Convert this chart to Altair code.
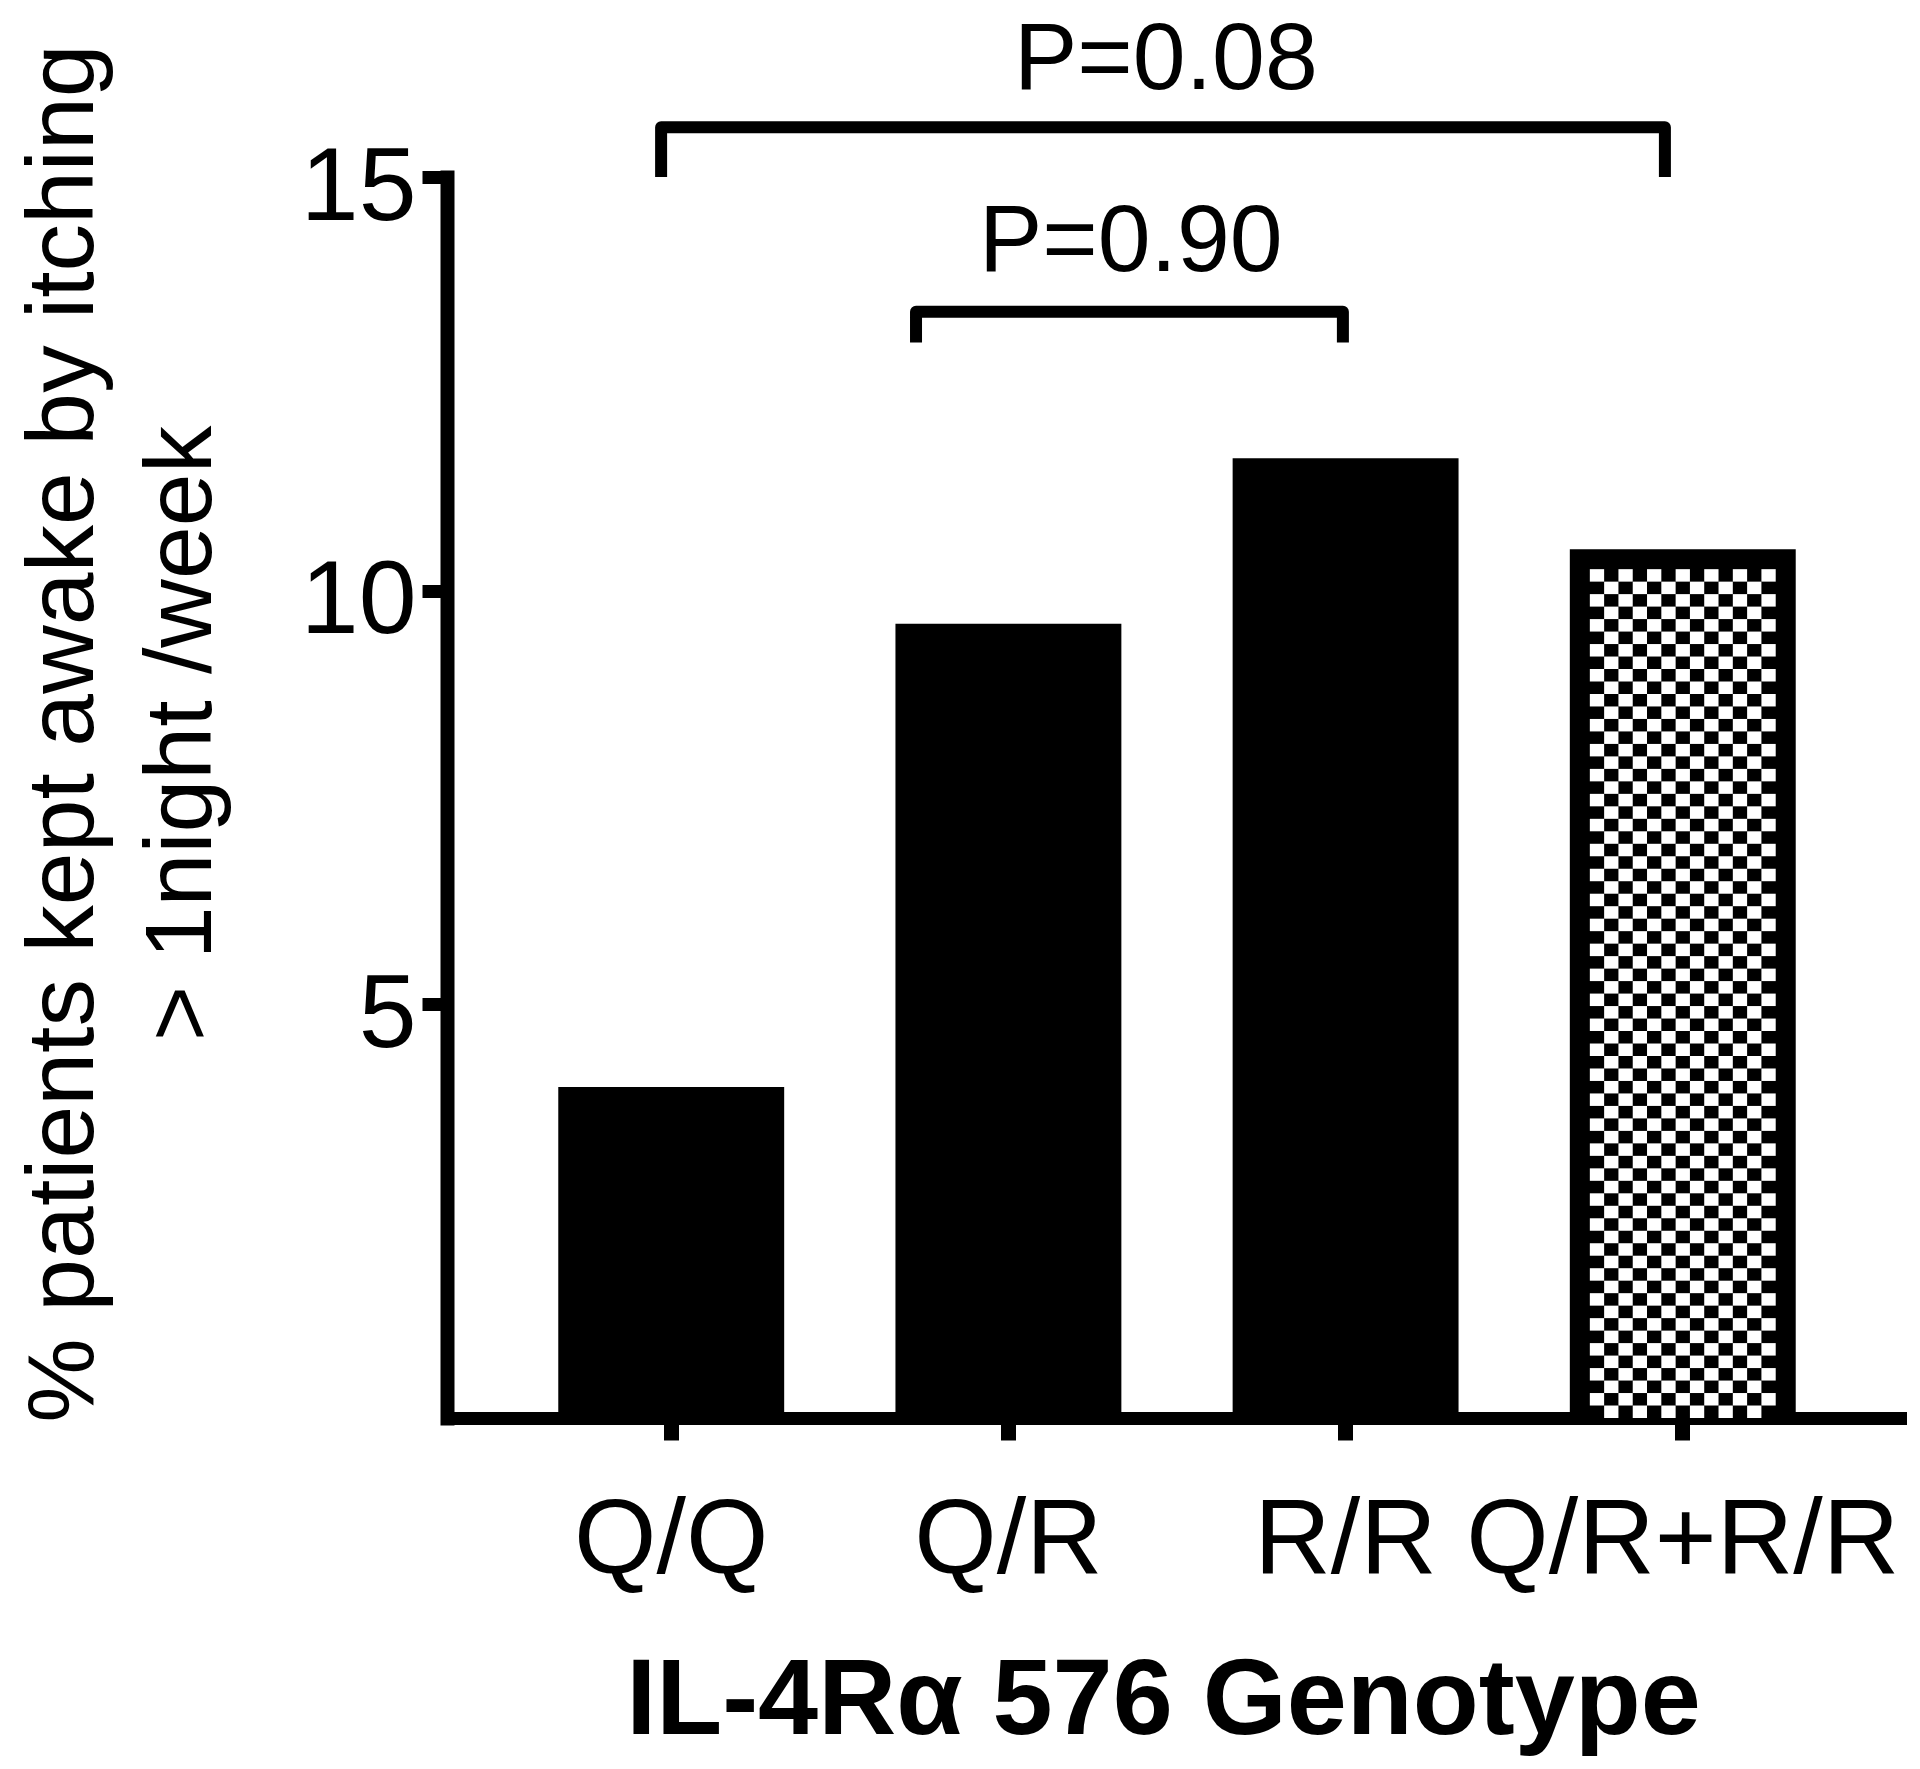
import altair as alt
import pandas as pd

# ---------------- data ----------------
genotypes = ["Q/Q", "Q/R", "R/R", "Q/R+R/R"]
percent_awake = [4.0, 9.6, 11.6, 10.5]
bar_fill = ["solid", "solid", "solid", "checked"]

y_tick_values = [5, 10, 15]

# significance brackets (x in genotype-position units: Q/Q = 0 ... Q/R+R/R = 3)
bracket_id = ["all", "all", "all", "all", "qr_rr", "qr_rr", "qr_rr", "qr_rr"]
bracket_order = [0, 1, 2, 3, 0, 1, 2, 3]
bracket_x = [-0.03, -0.03, 2.947, 2.947, 0.726, 0.726, 1.992, 1.992]
bracket_y = [15.0, 15.6, 15.6, 15.0, 13.0, 13.37, 13.37, 13.0]

p_text = ["P=0.08", "P=0.90"]
p_x = [1.467, 1.363]
p_y = [16.06, 13.86]

# ---------------- tables ----------------
bars_df = pd.DataFrame({"genotype": genotypes, "value": percent_awake, "fill": bar_fill})

# checkerboard texture for the combined-genotype bar
CHECK_COLS = 13
CHECK_ROWS = 68
BORDER = 0.24  # top border of patterned bar, in axis units
cells = []
for g, v, f in zip(genotypes, percent_awake, bar_fill):
    if f != "checked":
        continue
    top = v - BORDER
    h = top / CHECK_ROWS
    for r in range(CHECK_ROWS):
        for c in range(CHECK_COLS):
            if (r + c) % 2 == 1:
                cells.append({"genotype": g, "col": c, "y0": r * h, "y1": (r + 1) * h})
cells_df = pd.DataFrame(cells)
col_domain = list(range(-1, CHECK_COLS + 1))  # one empty slot each side = border

brackets_df = pd.DataFrame({"bracket": bracket_id, "ord": bracket_order,
                            "bx": bracket_x, "by": bracket_y})
ptext_df = pd.DataFrame({"label": p_text, "px": p_x, "py": p_y})

# ---------------- layout ----------------
W, H = 1460, 1241
FONT = "Liberation Sans"
PAD_IN, PAD_OUT = 0.33, 0.33
n = len(genotypes)
center0 = PAD_OUT + (1 - PAD_IN) / 2
lin_domain = [-center0, (n - PAD_IN + 2 * PAD_OUT) - center0]

y_scale = alt.Scale(domain=[0, 15], nice=False, zero=True)
band_scale = alt.Scale(domain=genotypes, paddingInner=PAD_IN, paddingOuter=PAD_OUT)
lin_scale = alt.Scale(domain=lin_domain, nice=False, zero=False)

x_axis = alt.Axis(
    title="IL-4Rα 576 Genotype",
    titleFont=FONT, titleFontSize=108, titleFontWeight="bold", titleColor="black",
    titleX=716, titleY=315, titleBaseline="alphabetic", titleAlign="center",
    labelFont=FONT, labelFontSize=106, labelColor="black", labelAngle=0,
    labelPadding=48, labelLimit=0, labelOverlap=False,
    domainColor="black", domainWidth=13, domainCap="butt",
    tickColor="black", tickWidth=15, tickSize=22,
    grid=False,
)
Y_TITLE = ["% patients kept awake by itching", "> 1night /week"]
y_axis = alt.Axis(
    values=y_tick_values,
    title=Y_TITLE,
    titleFont=FONT, titleFontSize=95, titleFontWeight="normal", titleColor="black",
    titleAngle=270, titleAlign="center", titleBaseline="alphabetic",
    titleX=-355, titleY=556, titleLineHeight=118,
    labelFont=FONT, labelFontSize=104, labelColor="black", labelPadding=6,
    labelBaseline="middle", labelOffset=11, labelLimit=0,
    domainColor="black", domainWidth=14, domainCap="square",
    tickColor="black", tickWidth=13, tickSize=25,
    grid=False,
)

bars = alt.Chart(bars_df).mark_bar(color="black").encode(
    x=alt.X("genotype:N", sort=genotypes, scale=band_scale, axis=x_axis),
    y=alt.Y("value:Q", scale=y_scale, axis=y_axis, title=Y_TITLE),
)

checker = alt.Chart(cells_df).mark_bar(color="white").encode(
    x=alt.X("genotype:N", sort=genotypes, scale=band_scale, axis=None),
    xOffset=alt.XOffset("col:O", scale=alt.Scale(domain=col_domain,
                                                  paddingInner=0, paddingOuter=0.4)),
    y=alt.Y("y0:Q", scale=y_scale, axis=y_axis, title=Y_TITLE),
    y2="y1:Q",
)

brackets = alt.Chart(brackets_df).mark_line(
    color="black", strokeWidth=12, strokeJoin="round", strokeCap="butt"
).encode(
    x=alt.X("bx:Q", scale=lin_scale, axis=None),
    y=alt.Y("by:Q", scale=y_scale, axis=y_axis, title=Y_TITLE),
    detail="bracket:N",
    order="ord:Q",
)

ptext = alt.Chart(ptext_df).mark_text(
    font=FONT, fontSize=95, color="black", align="center", baseline="alphabetic"
).encode(
    x=alt.X("px:Q", scale=lin_scale, axis=None),
    y=alt.Y("py:Q", scale=y_scale, axis=y_axis, title=Y_TITLE),
    text="label:N",
)

chart = alt.layer(bars, checker, brackets, ptext).resolve_scale(
    x="independent"
).properties(
    width=W, height=H,
    autosize=alt.AutoSizeParams(type="none"),
    padding={"left": 439, "top": 169, "right": 0, "bottom": 338},
    background="white",
).configure_view(strokeWidth=0)

chart.save("out.html", embed_options={"renderer": "svg", "actions": False})
